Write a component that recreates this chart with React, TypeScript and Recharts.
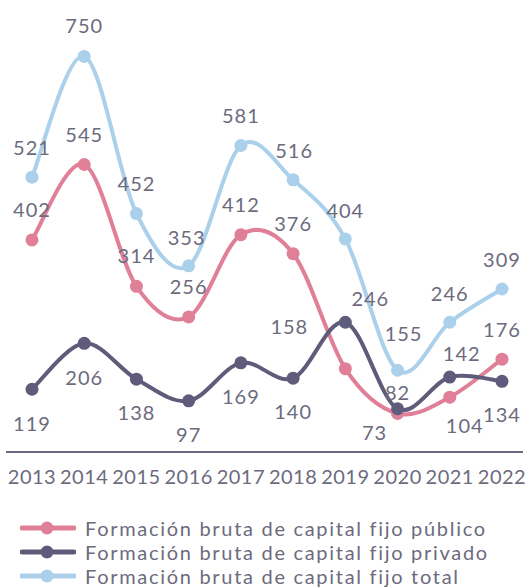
import { LineChart, Line, XAxis, YAxis } from 'recharts'

const years = ['2013', '2014', '2015', '2016', '2017', '2018', '2019', '2020', '2021', '2022']
const publico = [402, 545, 314, 256, 412, 376, 158, 73, 104, 176]
const privado = [119, 206, 138, 97, 169, 140, 246, 82, 142, 134]
const total = [521, 750, 452, 353, 581, 516, 404, 155, 246, 309]

// label offsets (dx, dy) from each point, placed by hand like the original
const publicoLabelPos = [[0, -31], [0, -31], [0, -31], [0, -31], [0, -31], [0, -31], [-56, -43], [-23, 19], [15, 28], [0, -30]]
const privadoLabelPos = [[0, 34], [0, 34], [0, 33], [0, 33], [0, 33], [0, 33], [25, -24], [0, -17], [12, -24], [0, 33]]
const totalLabelPos = [[0, -30], [0, -31], [0, -31], [-2, -29], [0, -31], [1, -30], [0, -29], [6, -37], [0, -29], [0, -30]]

const PINK = '#e07f98'
const DARK = '#5f5c7b'
const LIGHT = '#abd0ec'
const TEXT = '#6c6b7d'
const FONT = 'Lato, "DejaVu Sans", sans-serif'

const data = years.map((y, i) => ({
  year: y,
  publico: publico[i],
  privado: privado[i],
  total: total[i],
}))

// smoothed line similar to spreadsheet "smooth line" (Catmull-Rom style bezier)
function smoothCurve(context: any) {
  let pts: number[][] = []
  return {
    areaStart() {},
    areaEnd() {},
    lineStart() {
      pts = []
    },
    point(x: number, y: number) {
      pts.push([+x, +y])
    },
    lineEnd() {
      if (!pts.length) return
      context.moveTo(pts[0][0], pts[0][1])
      for (let i = 0; i < pts.length - 1; i++) {
        const p0 = pts[i - 1] || pts[i]
        const p1 = pts[i]
        const p2 = pts[i + 1]
        const p3 = pts[i + 2] || pts[i + 1]
        context.bezierCurveTo(
          p1[0] + (p2[0] - p0[0]) / 6,
          p1[1] + (p2[1] - p0[1]) / 6,
          p2[0] - (p3[0] - p1[0]) / 6,
          p2[1] - (p3[1] - p1[1]) / 6,
          p2[0],
          p2[1],
        )
      }
    },
  }
}

function makeLabel(offsets: number[][]) {
  return (props: any) => {
    const { x, y, value, index } = props
    const [dx, dy] = offsets[index] || [0, -30]
    return (
      <text
        x={x + dx}
        y={y + dy}
        textAnchor="middle"
        dominantBaseline="central"
        fontSize={20}
        fontFamily={FONT}
        letterSpacing={1}
        fill={TEXT}
      >
        {value}
      </text>
    )
  }
}

const legendItems = [
  { name: 'Formación bruta de capital fijo público', color: PINK },
  { name: 'Formación bruta de capital fijo privado', color: DARK },
  { name: 'Formación bruta de capital fijo total', color: LIGHT },
]

export default function App() {
  return (
    <div style={{ position: 'absolute', left: 0, top: 0, width: 527, height: 587, background: '#fff', overflow: 'hidden' }}>
      <LineChart width={527} height={500} data={data} margin={{ top: 30, right: 4, left: 6, bottom: 0 }}>
        <XAxis
          dataKey="year"
          padding={{ left: 26, right: 21 }}
          axisLine={{ stroke: '#6b6a80', strokeWidth: 2 }}
          tickLine={false}
          tickMargin={12}
          height={48}
          interval={0}
          tick={{ fontSize: 20, fill: TEXT, fontFamily: FONT, letterSpacing: 0.5 }}
        />
        <YAxis hide domain={[0, 800]} />
        <Line
          dataKey="total"
          type={smoothCurve as any}
          stroke={LIGHT}
          strokeWidth={4}
          dot={{ r: 6.5, fill: LIGHT, stroke: 'none' }}
          activeDot={false}
          isAnimationActive={false}
          label={makeLabel(totalLabelPos)}
        />
        <Line
          dataKey="publico"
          type={smoothCurve as any}
          stroke={PINK}
          strokeWidth={4}
          dot={{ r: 6.5, fill: PINK, stroke: 'none' }}
          activeDot={false}
          isAnimationActive={false}
          label={makeLabel(publicoLabelPos)}
        />
        <Line
          dataKey="privado"
          type={smoothCurve as any}
          stroke={DARK}
          strokeWidth={4}
          dot={{ r: 6.5, fill: DARK, stroke: 'none' }}
          activeDot={false}
          isAnimationActive={false}
          label={makeLabel(privadoLabelPos)}
        />
      </LineChart>
      <div style={{ position: 'absolute', left: 20, top: 516, fontFamily: FONT, fontSize: 20, color: TEXT }}>
        {legendItems.map((it) => (
          <div key={it.name} style={{ display: 'flex', alignItems: 'center', height: 24 }}>
            <svg width={56} height={24} style={{ marginRight: 9 }}>
              <line x1={2} y1={12} x2={54} y2={12} stroke={it.color} strokeWidth={5} strokeLinecap="round" />
              <circle cx={27} cy={12} r={6.5} fill={it.color} />
            </svg>
            <span style={{ lineHeight: '24px', whiteSpace: 'nowrap', letterSpacing: 1.7 }}>{it.name}</span>
          </div>
        ))}
      </div>
    </div>
  )
}
